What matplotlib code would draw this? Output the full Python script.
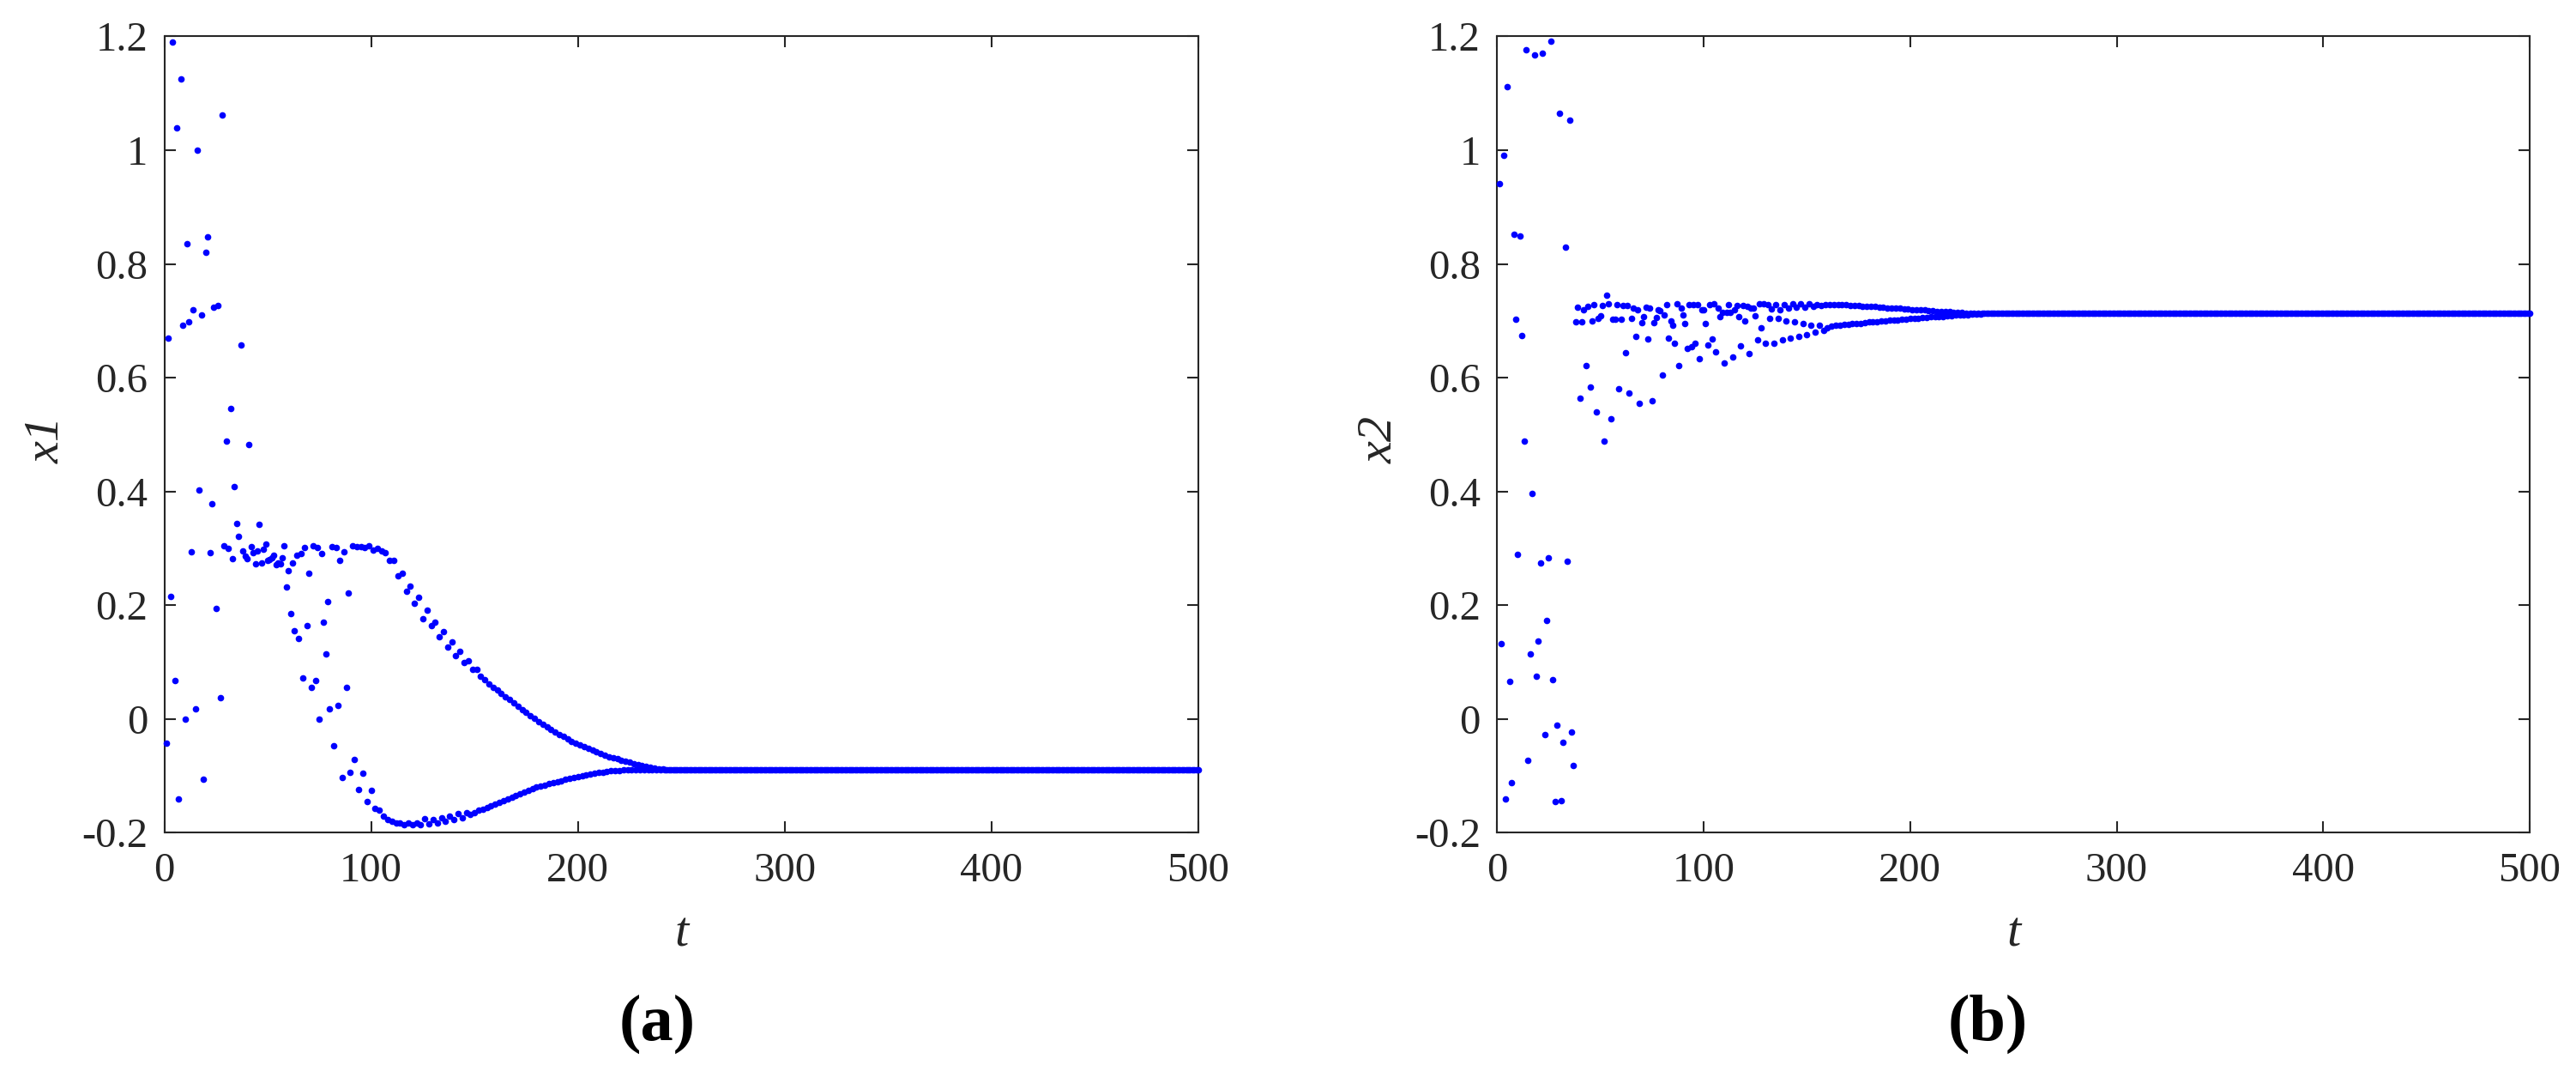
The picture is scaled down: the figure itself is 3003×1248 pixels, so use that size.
import matplotlib
matplotlib.use('Agg')
import matplotlib.pyplot as plt
import numpy as np

# time runs 1..500, one sample per step
t_max = 500
t_ticks = [0, 100, 200, 300, 400, 500]
y_ticks = [-0.2, 0, 0.2, 0.4, 0.6, 0.8, 1.0, 1.2]
y_tick_labels = ['-0.2', '0', '0.2', '0.4', '0.6', '0.8', '1', '1.2']

# x1 for t = 1..241, after that it sits on x1_final
x1_vals = [
    -0.042, 0.670, 0.216, 1.190, 0.068, 1.040, -0.141, 1.125, 0.692, 0.000,
    0.835, 0.698, 0.294, 0.720, 0.018, 1.000, 0.403, 0.710, -0.105, 0.820,
    0.848, 0.293, 0.378, 0.724, 0.195, 0.727, 0.037, 1.062, 0.304, 0.489,
    0.300, 0.546, 0.282, 0.408, 0.344, 0.321, 0.657, 0.295, 0.287, 0.282,
    0.482, 0.303, 0.292, 0.273, 0.296, 0.342, 0.274, 0.299, 0.308, 0.279,
    0.281, 0.283, 0.288, 0.272, 0.275, 0.273, 0.284, 0.304, 0.232, 0.261,
    0.186, 0.275, 0.156, 0.288, 0.141, 0.291, 0.073, 0.301, 0.164, 0.256,
    0.055, 0.304, 0.068, 0.302, 0.000, 0.291, 0.170, 0.114, 0.207, 0.018,
    0.303, -0.047, 0.302, 0.024, 0.279, -0.102, 0.294, 0.056, 0.222, -0.094,
    0.304, -0.071, 0.303, -0.124, 0.303, -0.095, 0.302, -0.145, 0.304, -0.126,
    0.297, -0.157, 0.300, -0.160, 0.296, -0.171, 0.293, -0.176, 0.279, -0.179,
    0.279, -0.182, 0.252, -0.183, 0.256, -0.185, 0.225, -0.182, 0.233, -0.185,
    0.204, -0.182, 0.214, -0.185, 0.177, -0.175, 0.192, -0.184, 0.164, -0.177,
    0.171, -0.183, 0.144, -0.173, 0.154, -0.180, 0.126, -0.170, 0.136, -0.177,
    0.112, -0.166, 0.119, -0.173, 0.100, -0.165, 0.102, -0.168, 0.087, -0.164,
    0.087, -0.160, 0.075, -0.158, 0.069, -0.155, 0.062, -0.152, 0.056, -0.149,
    0.051, -0.146, 0.045, -0.143, 0.039, -0.140, 0.034, -0.137, 0.028, -0.134,
    0.023, -0.132, 0.017, -0.129, 0.012, -0.126, 0.006, -0.123, 0.001, -0.120,
    -0.004, -0.118, -0.009, -0.116, -0.014, -0.114, -0.018, -0.112, -0.023, -0.110,
    -0.027, -0.108, -0.031, -0.106, -0.035, -0.104, -0.039, -0.102, -0.042, -0.101,
    -0.046, -0.099, -0.049, -0.098, -0.052, -0.097, -0.055, -0.095, -0.058, -0.094,
    -0.061, -0.093, -0.063, -0.092, -0.066, -0.091, -0.068, -0.090, -0.070, -0.090,
    -0.072, -0.089, -0.074, -0.089, -0.076, -0.089, -0.078, -0.089, -0.080, -0.089,
    -0.082, -0.089, -0.083, -0.089, -0.085, -0.089, -0.086, -0.089, -0.087, -0.089,
    -0.088,
]
x1_final = -0.089

# x2 for t = 1..240, then flat at x2_final
x2_vals = [
    0.941, 0.132, 0.991, -0.140, 1.111, 0.067, -0.111, 0.853, 0.703, 0.289,
    0.849, 0.674, 0.489, 1.176, -0.073, 0.115, 0.396, 1.168, 0.075, 0.137,
    0.275, 1.170, -0.027, 0.174, 0.283, 1.192, 0.070, -0.145, -0.010, 1.065,
    -0.144, -0.041, 0.830, 0.278, 1.053, -0.023, -0.082, 0.698, 0.724, 0.564,
    0.699, 0.720, 0.622, 0.726, 0.583, 0.700, 0.729, 0.540, 0.705, 0.709,
    0.727, 0.489, 0.745, 0.730, 0.528, 0.703, 0.703, 0.729, 0.581, 0.703,
    0.727, 0.644, 0.727, 0.573, 0.704, 0.723, 0.672, 0.719, 0.555, 0.697,
    0.708, 0.724, 0.668, 0.723, 0.560, 0.697, 0.706, 0.720, 0.718, 0.605,
    0.711, 0.729, 0.670, 0.700, 0.692, 0.661, 0.730, 0.621, 0.723, 0.710,
    0.696, 0.651, 0.728, 0.655, 0.728, 0.661, 0.729, 0.634, 0.719, 0.719,
    0.695, 0.658, 0.728, 0.668, 0.730, 0.646, 0.723, 0.707, 0.715, 0.626,
    0.715, 0.729, 0.715, 0.637, 0.720, 0.727, 0.708, 0.656, 0.727, 0.700,
    0.726, 0.642, 0.723, 0.723, 0.709, 0.667, 0.730, 0.688, 0.730, 0.660,
    0.728, 0.704, 0.721, 0.661, 0.728, 0.705, 0.720, 0.666, 0.729, 0.700,
    0.723, 0.669, 0.730, 0.698, 0.724, 0.673, 0.730, 0.695, 0.724, 0.676,
    0.730, 0.693, 0.726, 0.681, 0.729, 0.692, 0.727, 0.684, 0.729, 0.688,
    0.729, 0.691, 0.729, 0.692, 0.728, 0.693, 0.728, 0.694, 0.728, 0.694,
    0.727, 0.695, 0.727, 0.696, 0.727, 0.696, 0.726, 0.697, 0.726, 0.698,
    0.725, 0.698, 0.725, 0.699, 0.724, 0.700, 0.724, 0.700, 0.723, 0.701,
    0.723, 0.702, 0.722, 0.702, 0.722, 0.703, 0.721, 0.703, 0.721, 0.704,
    0.720, 0.705, 0.720, 0.705, 0.719, 0.706, 0.719, 0.706, 0.718, 0.707,
    0.718, 0.707, 0.717, 0.708, 0.717, 0.708, 0.716, 0.709, 0.716, 0.709,
    0.715, 0.710, 0.715, 0.710, 0.715, 0.711, 0.714, 0.711, 0.714, 0.712,
    0.714, 0.712, 0.714, 0.712, 0.713, 0.713, 0.713, 0.713, 0.713, 0.713,
]
x2_final = 0.713

frame_color = '#262626'
dot_color = '#0000ff'
serif = ['Liberation Serif', 'DejaVu Serif']


def full_series(vals, final):
    return np.array(vals + [final] * (t_max - len(vals)))


def draw_panel(ax, values, ylabel):
    t = np.arange(1, t_max + 1)
    ax.plot(t, values, 'o', color=dot_color, markersize=5.5,
            markeredgewidth=0, clip_on=False, zorder=3)
    ax.set_xlim(0, t_max)
    ax.set_ylim(-0.2, 1.2)
    ax.set_xticks(t_ticks)
    ax.set_xticklabels([str(v) for v in t_ticks], family=serif)
    ax.set_yticks(y_ticks)
    ax.set_yticklabels(y_tick_labels, family=serif)
    ax.tick_params(direction='in', top=True, right=True, length=9.5,
                   width=1.5, color=frame_color, labelcolor=frame_color,
                   labelsize=35)
    ax.tick_params(axis='x', pad=16)
    ax.tick_params(axis='y', pad=14)
    for s in ax.spines.values():
        s.set_color(frame_color)
        s.set_linewidth(1.5)
    ax.set_xlabel('t', family=serif, style='italic', fontsize=42,
                  color=frame_color)
    ax.set_ylabel(ylabel, family=serif, style='italic', fontsize=42,
                  color=frame_color)
    ax.xaxis.set_label_coords(0.5, -0.099)
    ax.yaxis.set_label_coords(-0.092, 0.494)


fig = plt.figure(figsize=(30.03, 12.48), dpi=100)
ax_a = fig.add_axes([0.06377, 0.22236, 0.40143, 0.74359])
ax_b = fig.add_axes([0.58119, 0.22236, 0.40083, 0.74359])

draw_panel(ax_a, full_series(x1_vals, x1_final), 'x1')
draw_panel(ax_b, full_series(x2_vals, x2_final), 'x2')

fig.text(0.2550, 0.044, '(a)', family=serif, weight='bold', fontsize=55,
         ha='center', va='center', color='black')
fig.text(0.7716, 0.044, '(b)', family=serif, weight='bold', fontsize=55,
         ha='center', va='center', color='black')

fig.savefig('out.png', dpi=100, facecolor='white')
